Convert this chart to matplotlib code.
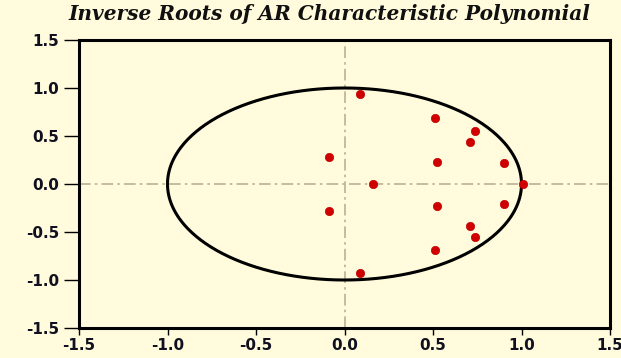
import numpy as np
import matplotlib
matplotlib.use("Agg")
import matplotlib.pyplot as plt

root_re = [0.09, 0.51, 0.74, 0.71, -0.09, 0.52, 0.90, 0.16, 1.01,
           -0.09, 0.52, 0.90, 0.71, 0.74, 0.51, 0.09]
root_im = [0.94, 0.69, 0.55, 0.44, 0.28, 0.23, 0.22, 0.00, 0.00,
           -0.28, -0.23, -0.21, -0.44, -0.55, -0.69, -0.93]
ticks = [-1.5, -1.0, -0.5, 0.0, 0.5, 1.0, 1.5]
tick_labels = ["-1.5", "-1.0", "-0.5", "0.0", "0.5", "1.0", "1.5"]
title = "Inverse Roots of AR Characteristic Polynomial"

bg = "#fffbdc"
fig = plt.figure(figsize=(6.21, 3.58), dpi=100, facecolor=bg)
ax = fig.add_axes([79/621, 1-328/358, (610-79)/621, (328-40)/358])
ax.set_facecolor(bg)

ax.axhline(0, color="#bdb095", lw=1.2, ls=(0, (7, 2.5, 1.5, 2.5)), zorder=1)
ax.axvline(0, color="#bdb095", lw=1.2, ls=(0, (7, 2.5, 1.5, 2.5)), zorder=1)

theta = np.linspace(0, 2*np.pi, 400)
ax.plot(np.cos(theta), np.sin(theta), color="black", lw=2.2, zorder=2)

ax.plot(root_re, root_im, ls="none", marker="o", ms=6, mfc="#d00000",
        mec="#c00000", mew=0.5, zorder=3)

ax.set_xlim(-1.5, 1.5)
ax.set_ylim(-1.5, 1.5)
ax.set_xticks(ticks)
ax.set_yticks(ticks)
ax.set_xticklabels(tick_labels)
ax.set_yticklabels(tick_labels)
for lab in ax.get_xticklabels() + ax.get_yticklabels():
    lab.set_fontweight("bold")
    lab.set_fontsize(11)
    lab.set_color("#101020")
ax.tick_params(axis="x", direction="out", length=5, width=1, pad=2, top=False)
ax.tick_params(axis="y", direction="out", length=11, width=1, pad=3, right=False)
for s in ax.spines.values():
    s.set_linewidth(2.2)
    s.set_color("black")

fig.text(68/621, 1-14/358, title, ha="left", va="center",
         family="DejaVu Serif", fontweight="bold", style="italic",
         fontsize=14.5, color="#101010")

fig.savefig("out.png", dpi=100, facecolor=bg)
